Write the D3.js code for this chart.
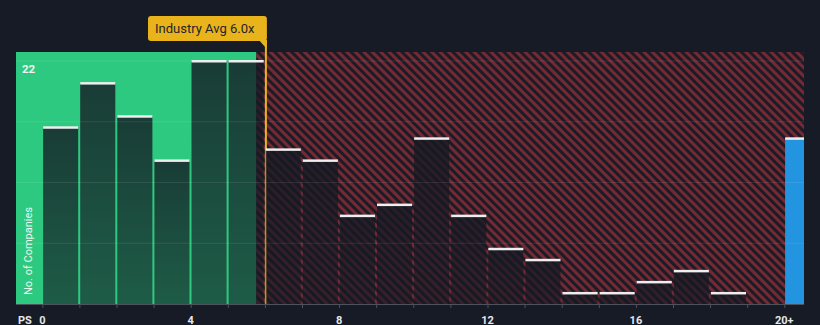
<!DOCTYPE html>
<html>
<head>
<meta charset="utf-8">
<script src="https://cdn.jsdelivr.net/npm/d3@7"></script>
<style>
  html, body { margin: 0; padding: 0; background: #161b26; }
  svg { display: block; }
  text { font-family: Roboto, "Noto Sans", sans-serif; }
</style>
</head>
<body>
<svg id="chart" width="820" height="325"></svg>
<script>
// ---- data ----
const bins = d3.range(0, 20);                 // bin starts 0..19 (width 1)
const counts = [16, 20, 17, 13, 22, 22, 14, 13, 8, 9, 15, 8, 5, 4, 1, 1, 2, 3, 1, 0];
const overflowLabel = "20+";
const overflowCount = 15;
const tickValues = [0, 4, 8, 12, 16, 20];
const tickLabels = ["0", "4", "8", "12", "16", "20+"];
const industryAvg = 6.0;
const fairEnd = 5.77;          // end of green "fair" region
const yTopLabel = 22;

// ---- layout ----
const plot = { left: 16, right: 804, top: 52, bottom: 304 };

const svg = d3.select("#chart");
const x = d3.scaleLinear().domain([0, 20]).range([42.3, 784.3]);
const y = d3.scaleLinear().domain([0, 22]).range([304, 61]);

const defs = svg.append("defs");
const pat = defs.append("pattern")
  .attr("id", "hatch").attr("patternUnits", "userSpaceOnUse")
  .attr("width", 6).attr("height", 6)
  .attr("patternTransform", "rotate(45)");
pat.append("rect").attr("width", 6).attr("height", 6).attr("fill", "#1c1b26");
pat.append("rect").attr("width", 6).attr("height", 3).attr("fill", "#742a34");

const grad = defs.append("linearGradient").attr("id", "barGrad")
  .attr("x1", 0).attr("y1", 0).attr("x2", 0).attr("y2", 1);
grad.append("stop").attr("offset", "0%").attr("stop-color", "#141923").attr("stop-opacity", 0.8);
grad.append("stop").attr("offset", "100%").attr("stop-color", "#141923").attr("stop-opacity", 0.62);

const clip = defs.append("clipPath").attr("id", "plotClip");
clip.append("rect").attr("x", plot.left).attr("y", plot.top)
  .attr("width", plot.right - plot.left).attr("height", plot.bottom - plot.top);

// regions
svg.append("rect")
  .attr("x", plot.left).attr("y", plot.top)
  .attr("width", x(fairEnd) - plot.left).attr("height", plot.bottom - plot.top)
  .attr("fill", "#2ec981");
svg.append("rect")
  .attr("x", x(fairEnd)).attr("y", plot.top)
  .attr("width", plot.right - x(fairEnd)).attr("height", plot.bottom - plot.top)
  .attr("fill", "url(#hatch)");

// industry avg line (under bars)
svg.append("line")
  .attr("x1", x(industryAvg) + 1).attr("x2", x(industryAvg) + 1)
  .attr("y1", 40).attr("y2", plot.bottom)
  .attr("stroke", "#e9b31b").attr("stroke-width", 2);

// bars
const step = x(1) - x(0);
const g = svg.append("g").attr("clip-path", "url(#plotClip)");
const data = bins.map((b, i) => ({ b, v: counts[i] })).filter(d => d.v > 0);
g.selectAll("rect.bar").data(data).join("rect")
  .attr("class", "bar")
  .attr("x", d => x(d.b) + 0.8)
  .attr("y", d => y(d.v))
  .attr("width", step - 2)
  .attr("height", d => y(0) - y(d.v))
  .attr("fill", "url(#barGrad)");
g.selectAll("rect.cap").data(data).join("rect")
  .attr("class", "cap")
  .attr("x", d => x(d.b) + 0.8)
  .attr("y", d => y(d.v) - 1)
  .attr("width", step - 2)
  .attr("height", 2.5)
  .attr("fill", "#eeeeee");

// overflow bar
g.append("rect")
  .attr("x", x(20) + 0.8).attr("y", y(overflowCount))
  .attr("width", step).attr("height", y(0) - y(overflowCount))
  .attr("fill", "#2394e0");
g.append("rect")
  .attr("x", x(20) + 0.8).attr("y", y(overflowCount) - 1)
  .attr("width", step).attr("height", 2.5)
  .attr("fill", "#eeeeee");

// gridlines
const gridVals = [5.5, 11, 16.5, 22];
svg.selectAll("line.grid").data(gridVals).join("line")
  .attr("class", "grid")
  .attr("x1", plot.left).attr("x2", plot.right)
  .attr("y1", d => y(d)).attr("y2", d => y(d))
  .attr("stroke", "#ffffff").attr("stroke-opacity", 0.09).attr("stroke-width", 1);

// x axis
const axis = d3.axisBottom(x)
  .tickValues(d3.range(0, 21))
  .tickSize(4)
  .tickFormat("");
const ax = svg.append("g").attr("transform", `translate(0,${plot.bottom})`).call(axis);
ax.select(".domain").remove();
ax.selectAll(".tick line").attr("stroke", "#4d525d");
svg.append("line")
  .attr("x1", plot.left).attr("x2", plot.right)
  .attr("y1", plot.bottom + 0.5).attr("y2", plot.bottom + 0.5)
  .attr("stroke", "#4d525d").attr("stroke-width", 1);

svg.selectAll("text.xl").data(tickValues).join("text")
  .attr("class", "xl")
  .attr("x", d => x(d)).attr("y", 323.5)
  .attr("text-anchor", "middle")
  .attr("font-size", 11).attr("font-weight", "bold")
  .attr("fill", "#e6e8ea")
  .text((d, i) => tickLabels[i]);

svg.append("text")
  .attr("x", 18).attr("y", 323.5)
  .attr("font-size", 11).attr("font-weight", "bold")
  .attr("fill", "#e6e8ea").text("PS");

// y label
svg.append("text")
  .attr("x", 22).attr("y", 72.5)
  .attr("font-size", 11.5).attr("font-weight", "bold")
  .attr("fill", "#f2f2f2").text(String(yTopLabel));

svg.append("text")
  .attr("transform", "translate(31.5,251) rotate(-90)")
  .attr("text-anchor", "middle")
  .attr("font-size", 11)
  .attr("fill", "#eaf7f0").text("No. of Companies");

// callout
const cx = x(industryAvg) + 2;
svg.append("rect")
  .attr("x", 148).attr("y", 16).attr("width", cx - 148).attr("height", 25)
  .attr("rx", 3).attr("fill", "#e9b31b");
svg.append("path")
  .attr("d", `M${cx - 8},40 L${cx},40 L${cx},49 Z`)
  .attr("fill", "#e9b31b");
svg.append("text")
  .attr("x", 155).attr("y", 33)
  .attr("font-size", 13)
  .attr("fill", "#1f232b").text("Industry Avg 6.0x");
</script>
</body>
</html>
